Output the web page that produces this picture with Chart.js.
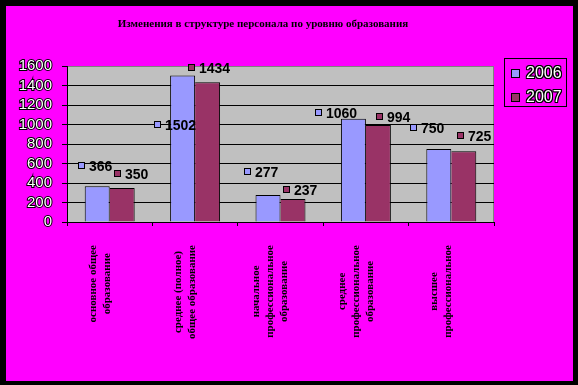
<!DOCTYPE html>
<html>
<head>
<meta charset="utf-8">
<script src="https://cdn.jsdelivr.net/npm/chart.js@4/dist/chart.umd.min.js"></script>
<style>
  html, body { margin:0; padding:0; background:#000; width:578px; height:385px; overflow:hidden; }
  #wrap { position:absolute; left:6px; top:6px; width:567px; height:375px; background:#ff00ff; }
  #chart { position:absolute; left:0; top:0; }
  #title { position:absolute; left:57px; top:9px; width:400px; text-align:center;
           font: bold 11px "Liberation Serif", "Times New Roman", serif; color:#000; line-height:16px; }
  #legend { position:absolute; left:498px; top:52px; width:61px; height:47px; border:1px solid #000; }
  .li { position:absolute; left:0; height:20px; width:61px; }
  .sw { position:absolute; left:6px; top:6px; width:7px; height:7px; border:1px solid #000; }
  .lt { position:absolute; left:21px; top:0; font: 16px "Liberation Sans", Arial, sans-serif; line-height:20px; color:#fff;
        text-shadow: -1px -1px 0 #000, 1px -1px 0 #000, -1px 1px 0 #000, 1px 1px 0 #000, 0 1px 0 #000, 0 -1px 0 #000, 1px 0 0 #000, -1px 0 0 #000; }
</style>
</head>
<body>
<div id="wrap">
  <canvas id="chart" width="567" height="375"></canvas>
  <div id="title"></div>
  <div id="legend"></div>
</div>
<script>
const chartTitle = "Изменения в структуре персонала по уровню образования";
const categories = [
  ["основное общее", "образование"],
  ["среднее (полное)", "общее образование"],
  ["начальное", "профессиональное", "образование"],
  ["среднее", "профессиональное", "образование"],
  ["высшее", "профессиональное"]
];
const seriesNames = ["2006", "2007"];
const values2006 = [366, 1502, 277, 1060, 750];
const values2007 = [350, 1434, 237, 994, 725];
const yTickValues = [0, 200, 400, 600, 800, 1000, 1200, 1400, 1600];

const seriesColors = ["#9999FF", "#993366"];

// label placement relative to each bar (dx from bar centre to marker left, dy from bar top to label middle)
const labelShift2006 = [[-19, -20], [-29, 49], [-24, -23], [-38, -6], [-29, -21]];
const labelShift2007 = [[-8, -14], [-20, -14], [-10, -9], [-2, -8], [-7, -15]];

document.getElementById('title').textContent = chartTitle;
const legendEl = document.getElementById('legend');
seriesNames.forEach((n, i) => {
  const row = document.createElement('div');
  row.className = 'li';
  row.style.top = (i === 0 ? 4 : 28) + 'px';
  const sw = document.createElement('div');
  sw.className = 'sw';
  sw.style.background = seriesColors[i];
  const t = document.createElement('div');
  t.className = 'lt';
  t.textContent = n;
  row.appendChild(sw); row.appendChild(t);
  legendEl.appendChild(row);
});

const plotBg = {
  id: 'plotBg',
  beforeDraw(chart) {
    const { ctx, chartArea: a } = chart;
    ctx.save();
    ctx.fillStyle = '#C0C0C0';
    ctx.fillRect(a.left, a.top, a.right - a.left, a.bottom - a.top);
    ctx.strokeStyle = '#808080';
    ctx.lineWidth = 1;
    ctx.beginPath();
    ctx.moveTo(a.right - 0.5, a.top);
    ctx.lineTo(a.right - 0.5, a.bottom);
    ctx.stroke();
    ctx.restore();
  }
};

const xLabels = {
  id: 'xLabels',
  afterDraw(chart) {
    const { ctx } = chart;
    const xs = chart.scales.x;
    const lh = 14;
    ctx.save();
    ctx.font = 'bold 11px "Liberation Serif", "Times New Roman", serif';
    ctx.fillStyle = '#000';
    chart.data.labels.forEach((lab, i) => {
      const lines = Array.isArray(lab) ? lab : [lab];
      const cx = xs.getPixelForValue(i) - 10;
      const maxW = Math.max(...lines.map(l => ctx.measureText(l).width));
      const cy = xs.top + 23 + maxW / 2;
      lines.forEach((l, j) => {
        const lx = cx + (j - (lines.length - 1) / 2) * lh;
        ctx.save();
        ctx.translate(lx, cy);
        ctx.rotate(-Math.PI / 2);
        ctx.textAlign = 'center';
        ctx.textBaseline = 'middle';
        ctx.fillText(l, 0, 0);
        ctx.restore();
      });
    });
    ctx.restore();
  }
};

const dataLabels = {
  id: 'dataLabels',
  afterDatasetsDraw(chart) {
    const { ctx } = chart;
    ctx.save();
    ctx.font = 'bold 14px "Liberation Sans", Arial, sans-serif';
    ctx.textBaseline = 'middle';
    ctx.textAlign = 'left';
    chart.data.datasets.forEach((ds, d) => {
      const meta = chart.getDatasetMeta(d);
      meta.data.forEach((el, i) => {
        const [dx, dy] = ds.labelShift[i];
        const x = Math.round(el.x + dx);
        const y = Math.round(el.y + dy);
        ctx.fillStyle = ds.backgroundColor;
        ctx.fillRect(x, y - 4, 7, 7);
        ctx.strokeStyle = '#000';
        ctx.lineWidth = 1;
        ctx.strokeRect(x + 0.5, y - 3.5, 6, 6);
        ctx.fillStyle = '#000';
        ctx.fillText(String(ds.data[i]), x + 11, y + 1);
      });
    });
    ctx.restore();
  }
};

new Chart(document.getElementById('chart'), {
  type: 'bar',
  data: {
    labels: categories,
    datasets: [
      { label: seriesNames[0], data: values2006, backgroundColor: seriesColors[0], borderColor: '#000',
        borderWidth: 1, labelShift: labelShift2006 },
      { label: seriesNames[1], data: values2007, backgroundColor: seriesColors[1], borderColor: '#000',
        borderWidth: { top: 1, right: 1, bottom: 1, left: 0 }, labelShift: labelShift2007 }
    ]
  },
  options: {
    responsive: false,
    animation: false,
    events: [],
    layout: { padding: { left: 0, top: 60, right: 79, bottom: 0 } },
    datasets: { bar: { categoryPercentage: 0.585, barPercentage: 1 } },
    plugins: { legend: { display: false }, title: { display: false }, tooltip: { enabled: false } },
    scales: {
      x: {
        grid: { offset: true, drawOnChartArea: false, color: '#000', tickLength: 4 },
        border: { color: '#000' },
        ticks: { display: false },
        afterFit(s) { s.height = 159; }
      },
      y: {
        min: 0, max: 1600,
        afterBuildTicks(s) { s.ticks = yTickValues.map(v => ({ value: v })); },
        grid: { color: c => (c.tick && c.tick.value === 1600 ? '#808080' : '#000'), tickColor: '#000', tickLength: 5 },
        border: { color: '#000' },
        ticks: {
          autoSkip: false,
          callback: v => String(v),
          color: '#fff', textStrokeColor: '#000', textStrokeWidth: 2, padding: 10,
          font: { family: '"Liberation Sans", Arial, sans-serif', size: 15 }
        },
        afterFit(s) { s.width = 61; }
      }
    }
  },
  plugins: [plotBg, xLabels, dataLabels]
});
</script>
</body>
</html>
